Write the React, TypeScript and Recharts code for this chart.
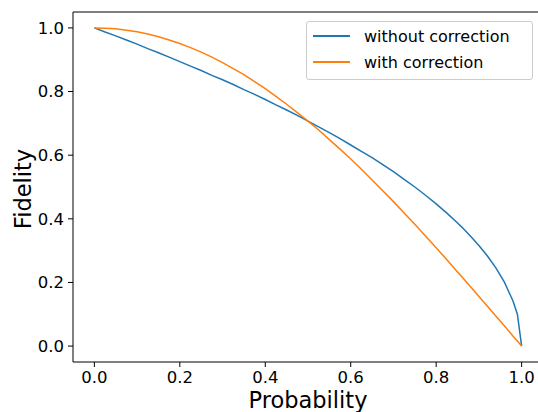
import React from 'react';
import { LineChart, Line, XAxis, YAxis, ReferenceLine, Label } from 'recharts';

const FONT = '"DejaVu Sans", sans-serif';

// probability grid (x values)
const probability = [
  0, 0.025, 0.05, 0.075, 0.1, 0.125, 0.15, 0.175, 0.2, 0.225, 0.25, 0.275, 0.3, 0.325, 0.35, 0.375, 0.4, 0.425,
  0.45, 0.475, 0.5, 0.525, 0.55, 0.575, 0.6, 0.625, 0.65, 0.675, 0.7, 0.725, 0.75, 0.775, 0.8, 0.825, 0.85, 0.86,
  0.88, 0.9, 0.92, 0.94, 0.96, 0.98, 0.99, 1.0,
];
const withoutCorrection = [
  1.0, 0.987, 0.975, 0.962, 0.949, 0.935, 0.922, 0.908, 0.894, 0.88, 0.866, 0.851, 0.837, 0.822, 0.806, 0.791, 0.775, 0.758,
  0.742, 0.725, 0.707, 0.689, 0.671, 0.652, 0.632, 0.612, 0.592, 0.57, 0.548, 0.524, 0.5, 0.474, 0.447, 0.418, 0.387, 0.374,
  0.346, 0.316, 0.283, 0.245, 0.2, 0.141, 0.1, 0.0,
];
const withCorrection = [
  1.0, 0.999, 0.997, 0.993, 0.988, 0.981, 0.972, 0.962, 0.951, 0.938, 0.924, 0.908, 0.891, 0.872, 0.853, 0.831, 0.809, 0.785,
  0.76, 0.734, 0.707, 0.679, 0.649, 0.619, 0.588, 0.556, 0.522, 0.488, 0.454, 0.418, 0.383, 0.346, 0.309, 0.271, 0.233, 0.218,
  0.187, 0.156, 0.125, 0.094, 0.063, 0.031, 0.016, 0.0,
];
const ticks = [0, 0.2, 0.4, 0.6, 0.8, 1.0];

const data = probability.map((p, i) => ({ p, without: withoutCorrection[i], with: withCorrection[i] }));

const legendItems = [
  { name: 'without correction', color: '#1f77b4' },
  { name: 'with correction', color: '#ff7f0e' },
];

function LegendBox() {
  return (
    <div
      style={{
        position: 'absolute',
        left: 306,
        top: 21,
        width: 225,
        height: 57,
        border: '1px solid #cccccc',
        borderRadius: 3,
        background: 'rgba(255,255,255,0.8)',
        fontFamily: FONT,
        fontSize: 16,
        color: '#000',
      }}
    >
      {legendItems.map((it, i) => (
        <div key={it.name} style={{ position: 'absolute', left: 6, top: 3 + i * 26, height: 22, display: 'flex', alignItems: 'center' }}>
          <div style={{ width: 37, height: 0, borderTop: `2px solid ${it.color}`, marginRight: 14 }} />
          <span style={{ whiteSpace: 'nowrap' }}>{it.name}</span>
        </div>
      ))}
    </div>
  );
}

function YTitle() {
  return (
    <text x={23} y={189} transform="rotate(-90 23 189)" textAnchor="middle" dy="0.36em" fontSize={22.5} fontFamily={FONT} fill="#000">
      Fidelity
    </text>
  );
}

export default function App() {
  const tickStyle = { fill: '#000', fontSize: 16.5, fontFamily: FONT };
  return (
    <div style={{ position: 'absolute', left: 0, top: 0, width: 538, height: 412, overflow: 'hidden', background: '#fff' }}>
      <LineChart width={543} height={412} data={data} margin={{ top: 12, right: 0, bottom: 0, left: 0 }}>
        <XAxis
          dataKey="p"
          type="number"
          domain={[-0.05, 1.05]}
          ticks={ticks}
          tickFormatter={(v: number) => v.toFixed(1)}
          height={50}
          tickSize={5}
          tickMargin={4}
          tick={tickStyle}
          axisLine={{ stroke: '#000', strokeWidth: 1 }}
          tickLine={{ stroke: '#000' }}
        >
          <Label value="Probability" position="insideBottom" offset={4.5} style={{ fontSize: 22.5, fontFamily: FONT, fill: '#000' }} />
        </XAxis>
        <YAxis
          type="number"
          domain={[-0.05, 1.05]}
          ticks={ticks}
          tickFormatter={(v: number) => v.toFixed(1)}
          width={73}
          tickSize={5}
          tickMargin={4}
          tick={tickStyle}
          axisLine={{ stroke: '#000', strokeWidth: 1 }}
          tickLine={{ stroke: '#000' }}
        >
          <Label content={<YTitle />} />
        </YAxis>
        <ReferenceLine y={1.05} stroke="#000" strokeWidth={1} />
        <Line dataKey="without" stroke="#1f77b4" strokeWidth={1.5} dot={false} isAnimationActive={false} />
        <Line dataKey="with" stroke="#ff7f0e" strokeWidth={1.5} dot={false} isAnimationActive={false} />
      </LineChart>
      <LegendBox />
    </div>
  );
}
